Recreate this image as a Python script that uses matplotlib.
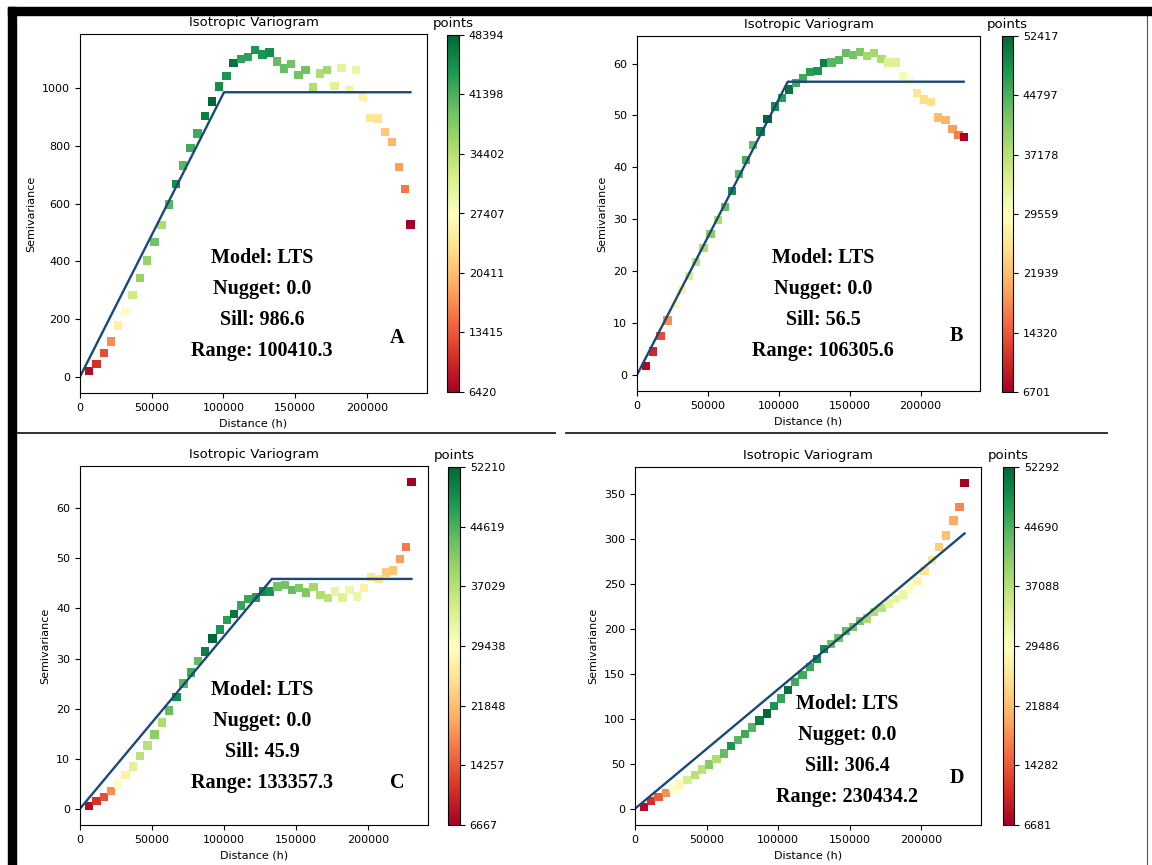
import numpy as np
import matplotlib
matplotlib.use('Agg')
import matplotlib.pyplot as plt
from matplotlib.patches import Rectangle
from matplotlib.lines import Line2D

W, H = 1152, 865

# lag distances (bin centres) shared by all four variograms
lags = [6400, 11400, 16500, 21500, 26600, 31600, 36700, 41800, 46900, 51900,
        56900, 62000, 67000, 72000, 77000, 82000, 87000, 92100, 97100, 102100,
        107100, 112100, 117200, 122200, 127200, 132200, 137200, 142300, 147300, 152300,
        157300, 162300, 167300, 172400, 177400, 182400, 187400, 192400, 197500, 202500,
        207500, 212500, 217500, 222600, 226800, 230400]

# panel A
semi_a = [20, 45, 82, 122, 178, 228, 283, 343, 403, 466,
          526, 597, 668, 733, 794, 844, 905, 955, 1006, 1044,
          1087, 1103, 1108, 1132, 1117, 1125, 1093, 1069, 1084, 1046,
          1063, 1003, 1052, 1063, 1009, 1070, 994, 1063, 972, 898,
          895, 848, 814, 728, 650, 528]
count_a = [7700, 10600, 12700, 16900, 25300, 27400, 32400, 36600, 36600, 39200,
           35000, 40800, 45000, 40800, 42100, 42100, 46300, 48394, 45000, 44200,
           47500, 43000, 43000, 44200, 44200, 45000, 40000, 40000, 39200, 39200,
           39200, 35000, 35000, 35800, 30800, 30300, 29500, 29500, 25300, 24000,
           24000, 21100, 19800, 18200, 15600, 6420]

# panel B
semi_b = [1.7, 4.5, 7.5, 10.5, 13.7, 16.4, 19.1, 21.8, 24.5, 27.2,
          29.8, 32.4, 35.5, 38.7, 41.4, 44.3, 46.9, 49.3, 51.7, 53.4,
          55.0, 56.3, 57.1, 58.4, 58.6, 60.1, 60.2, 60.7, 62.0, 61.7,
          62.2, 61.5, 62.0, 60.9, 60.2, 60.2, 57.6, 56.6, 54.3, 53.1,
          52.6, 49.6, 49.1, 47.4, 46.2, 45.9]
count_b = [7615, 10358, 13558, 18130, 28645, 27273, 34130, 36874, 37788, 40531,
           37788, 43274, 48760, 44188, 45102, 43274, 50131, 52417, 48760, 46931,
           51502, 45560, 45560, 46931, 47845, 50131, 44188, 44188, 43274, 42359,
           41445, 38702, 38702, 37788, 33216, 33216, 30473, 29559, 25902, 24987,
           24987, 21787, 21330, 19501, 16759, 6701]

# panel C
semi_c = [0.5, 1.5, 2.3, 3.5, 5.0, 6.7, 8.4, 10.5, 12.6, 14.8,
          17.2, 19.6, 22.3, 25.0, 27.2, 29.5, 31.4, 34.0, 35.8, 37.7,
          38.9, 40.6, 41.9, 42.2, 43.4, 43.4, 44.4, 44.7, 43.7, 44.1,
          43.2, 44.3, 42.7, 42.1, 43.4, 42.2, 43.7, 42.4, 44.1, 46.3,
          45.9, 47.2, 47.6, 49.9, 52.3, 65.2]
count_c = [8033, 11221, 13498, 18053, 29438, 27161, 33082, 36725, 36725, 40369,
           37636, 43101, 48567, 44012, 45379, 43101, 49933, 52210, 47656, 46745,
           50844, 45834, 45834, 46745, 49022, 47656, 42191, 42191, 43101, 41280,
           41280, 38547, 37636, 36725, 32171, 33082, 31260, 31716, 27161, 25795,
           25795, 23062, 22607, 19419, 16686, 6667]

# panel D
semi_d = [2.2, 8.9, 13.4, 17.5, 22.3, 27.1, 32.3, 37.9, 43.8, 49.4,
          55.3, 61.3, 69.5, 76.2, 82.8, 90.3, 98.1, 105.9, 114.4, 122.6,
          132.2, 141.2, 148.6, 157.9, 166.8, 177.6, 183.5, 190.2, 197.6, 202.5,
          208.8, 211.7, 219.2, 223.6, 228.5, 233.3, 238.5, 245.2, 253.7, 264.5,
          276.7, 291.6, 303.9, 320.6, 335.8, 362.2]
count_d = [8049, 11242, 14435, 18084, 29487, 28118, 34048, 36784, 36784, 40889,
           37696, 43170, 47731, 44082, 45450, 44082, 50011, 52292, 47731, 45906,
           51380, 45450, 45450, 45906, 49099, 48643, 42258, 42258, 43170, 41345,
           41345, 37696, 37696, 36784, 32223, 32223, 31767, 29487, 27662, 25838,
           25838, 23101, 22189, 20364, 17628, 6681]

sills = [986.6, 56.5, 45.9, 306.4]
ranges = [100410.3, 106305.6, 133357.3, 230434.2]
nuggets = [0.0, 0.0, 0.0, 0.0]
letters = ['A', 'B', 'C', 'D']

# pixel boxes (left, top, right, bottom) for axes and colorbars
ax_boxes = [(80, 34, 427, 393), (637, 36, 980, 391), (80, 466, 428, 825), (635, 467, 981, 825)]
cb_boxes = [(447, 35, 459, 392), (1002, 36, 1013, 392), (448, 467, 460, 825), (1003, 467, 1014, 825)]
# text anchors: centre x, first line y, letter x, letter y
txt_pos = [(262, 258, 397, 338), (823, 258, 956, 336), (262, 690, 397, 783), (847, 704, 957, 778)]


def box(l, t, r, b):
    return [l / W, 1 - b / H, (r - l) / W, (b - t) / H]


fig = plt.figure(figsize=(W / 100, H / 100), dpi=100)

panels = [(semi_a, count_a), (semi_b, count_b), (semi_c, count_c), (semi_d, count_d)]
for i, (semi, count) in enumerate(panels):
    ax = fig.add_axes(box(*ax_boxes[i]))
    cax = fig.add_axes(box(*cb_boxes[i]))
    vmin, vmax = min(count), max(count)
    sc = ax.scatter(lags, semi, c=count, cmap='RdYlGn', marker='s', s=36,
                    vmin=vmin, vmax=vmax, linewidths=0)
    h = np.array([0, min(ranges[i], lags[-1]), lags[-1]])
    model = nuggets[i] + sills[i] * np.minimum(h / ranges[i], 1)
    ax.plot(h, model, color='#1a4878', lw=1.7)
    ax.set_xlim(0, lags[-1] * 1.05)
    ax.set_title('Isotropic Variogram', fontsize=9.5)
    ax.set_xlabel('Distance (h)', fontsize=8)
    ax.set_ylabel('Semivariance', fontsize=8)
    ax.tick_params(labelsize=8)

    ticks = np.linspace(vmin, vmax, 7)
    cb = fig.colorbar(sc, cax=cax, ticks=ticks)
    cb.ax.set_yticklabels([str(int(t)) for t in ticks])
    cb.ax.tick_params(labelsize=8)
    cax.set_title('points', fontsize=9.5)

    cx, y0, lx, ly = txt_pos[i]
    lines = ['Model: LTS', 'Nugget: %.1f' % nuggets[i], 'Sill: %.1f' % sills[i],
             'Range: %.1f' % ranges[i]]
    for k, s in enumerate(lines):
        fig.text(cx / W, 1 - (y0 + 31 * k) / H, s, ha='center', va='center',
                 family='Liberation Serif', weight='bold', fontsize=14.5)
    fig.text(lx / W, 1 - ly / H, letters[i], ha='center', va='center',
             family='Liberation Serif', weight='bold', fontsize=14.5)

# black frame and dividers of the composite figure
fig.patches.append(Rectangle((8 / W, 1 - 15 / H), (W - 8) / W, 8 / H,
                             transform=fig.transFigure, color='black', zorder=5))
fig.patches.append(Rectangle((8 / W, 0), 8 / W, 1 - 7 / H,
                             transform=fig.transFigure, color='black', zorder=5))
fig.lines.append(Line2D([16 / W, 555 / W], [1 - 433 / H] * 2, transform=fig.transFigure,
                        color='#222222', lw=1.3))
fig.lines.append(Line2D([566 / W, 1107 / W], [1 - 433 / H] * 2, transform=fig.transFigure,
                        color='#222222', lw=1.3))
fig.lines.append(Line2D([1147 / W] * 2, [0, 1 - 15 / H], transform=fig.transFigure,
                        color='#555555', lw=0.8))

fig.savefig('out.png', dpi=100)
